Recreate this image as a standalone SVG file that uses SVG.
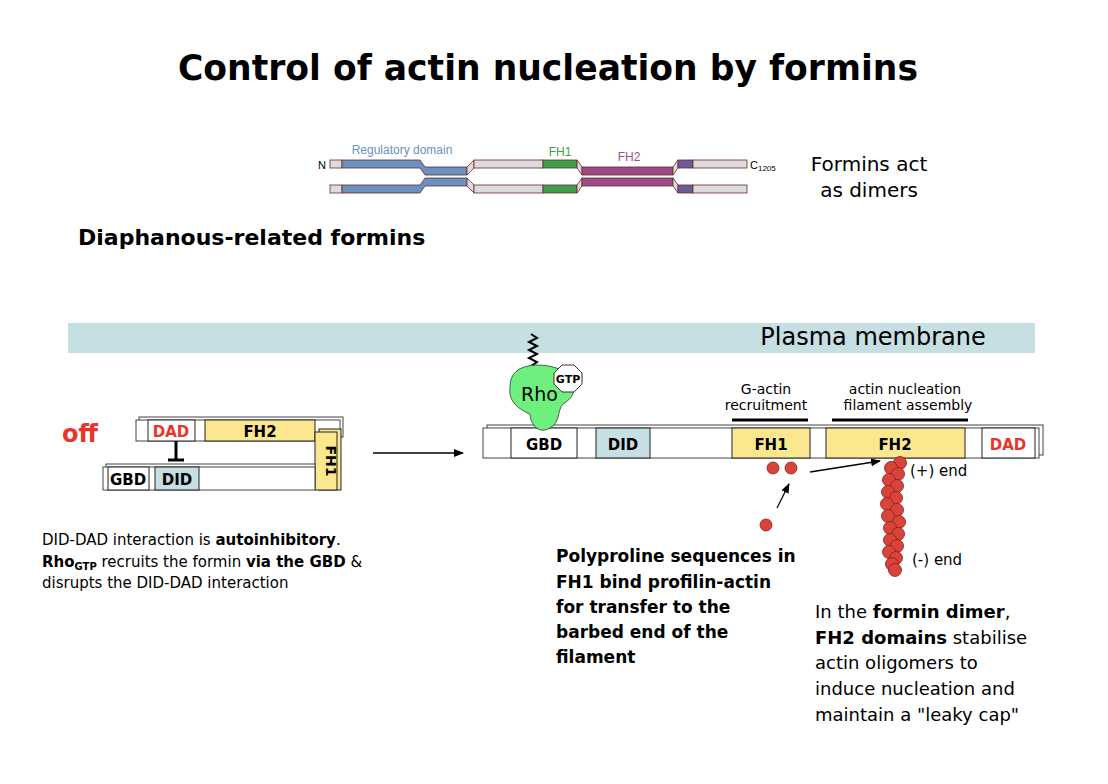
<svg xmlns="http://www.w3.org/2000/svg" width="1108" height="784" viewBox="0 0 1108 784">
<style>
text{font-family:"DejaVu Sans","Liberation Sans",sans-serif;fill:#000}
.b{font-weight:bold}
.box{stroke:#222;stroke-width:1}
.sh{fill:#fff;stroke:#444;stroke-width:1}
.dot{fill:#d9443a;stroke:#8a1d16;stroke-width:0.8}
.ln{stroke:#000;stroke-width:1.3;fill:none}
</style>
<defs>
<marker id="ah" markerWidth="10" markerHeight="8" refX="9" refY="4" orient="auto" markerUnits="userSpaceOnUse"><path d="M0,0 L10,4 L0,8 z" fill="#000"/></marker>
</defs>
<rect width="1108" height="784" fill="#fff"/>
<text x="548" y="80" font-size="36" text-anchor="middle" class="b" textLength="740" lengthAdjust="spacingAndGlyphs">Control of actin nucleation by formins</text>

<g id="dimer">
<text x="318" y="169" font-size="11" style="font-family:'Liberation Sans'">N</text>
<text x="750" y="169" font-size="11" style="font-family:'Liberation Sans'">C<tspan font-size="8" dy="2">1205</tspan></text>
<text x="402" y="154" font-size="12" text-anchor="middle" style="font-family:'Liberation Sans';fill:#6b8fc2">Regulatory domain</text>
<text x="560" y="156" font-size="12" text-anchor="middle" style="font-family:'Liberation Sans';fill:#3aa24a">FH1</text>
<text x="629" y="161" font-size="12" text-anchor="middle" style="font-family:'Liberation Sans';fill:#a0508f">FH2</text>
<g stroke="#6b2a2a" stroke-width="0.8">
<rect x="330" y="160" width="12" height="8" fill="#dcdce0"/>
<path d="M342,160 H420 L425,167 H467 V175 H425 L420,168 H342 Z" fill="#6a92c0"/>
<path d="M467,167 L474,160 V168 L467,175 Z" fill="#dcdce0"/>
<rect x="474" y="160" width="69" height="8" fill="#dcdce0"/>
<rect x="543" y="160" width="34" height="8" fill="#3ea04c"/>
<path d="M577,160 L582,167 V175 L577,168 Z" fill="#dcdce0"/>
<rect x="582" y="167" width="91" height="8" fill="#9c4c84"/>
<path d="M673,167 L678,160 V168 L673,175 Z" fill="#dcdce0"/>
<rect x="678" y="160" width="15" height="8" fill="#6b5c9a"/>
<rect x="693" y="160" width="54" height="8" fill="#dcdce0"/>

<rect x="330" y="185" width="12" height="8" fill="#dcdce0"/>
<path d="M342,185 H420 L425,178 H467 V186 H425 L420,193 H342 Z" fill="#6a92c0"/>
<path d="M467,178 L474,185 V193 L467,186 Z" fill="#dcdce0"/>
<rect x="474" y="185" width="69" height="8" fill="#dcdce0"/>
<rect x="543" y="185" width="34" height="8" fill="#3ea04c"/>
<path d="M577,185 L582,178 V186 L577,193 Z" fill="#dcdce0"/>
<rect x="582" y="178" width="91" height="8" fill="#9c4c84"/>
<path d="M673,178 L678,185 V193 L673,186 Z" fill="#dcdce0"/>
<rect x="678" y="185" width="15" height="8" fill="#6b5c9a"/>
<rect x="693" y="185" width="54" height="8" fill="#dcdce0"/>
</g>
</g>
<text x="869" y="171" font-size="20" text-anchor="middle">Formins act</text>
<text x="869" y="197" font-size="20" text-anchor="middle">as dimers</text>
<text x="78" y="245" font-size="22" class="b">Diaphanous-related formins</text>

<g id="membrane">
<rect x="68" y="323" width="967" height="30" fill="#c5dfe3"/>
<text x="873" y="345" font-size="24" text-anchor="middle">Plasma membrane</text>
</g>

<g id="off">
<text x="62" y="442" font-size="24" class="b" style="fill:#e8352b">off</text>
<rect x="139" y="417" width="204" height="20" class="sh"/>
<rect x="136" y="420" width="204" height="21" class="sh"/>
<rect x="148" y="420" width="47" height="21" class="box" fill="#fff"/>
<text x="171" y="437" font-size="15" class="b" text-anchor="middle" style="fill:#e8352b">DAD</text>
<rect x="205" y="420" width="110" height="21" class="box" fill="#fbe88e"/>
<text x="260" y="437" font-size="15" class="b" text-anchor="middle">FH2</text>
<rect x="319" y="429" width="22" height="61" class="box" fill="#fbe88e"/>
<rect x="315" y="432" width="22" height="58" class="box" fill="#fbe88e"/>
<text x="326" y="461" font-size="14" class="b" text-anchor="middle" transform="rotate(90 326 461)">FH1</text>
<rect x="106" y="464" width="209" height="22" class="sh"/>
<rect x="103" y="467" width="212" height="23" class="sh"/>
<rect x="108" y="467" width="41" height="23" class="box" fill="#fff"/>
<text x="128" y="485" font-size="15" class="b" text-anchor="middle">GBD</text>
<rect x="155" y="467" width="44" height="23" class="box" fill="#c5dfe3"/>
<text x="177" y="485" font-size="15" class="b" text-anchor="middle">DID</text>
<path d="M176,441 V460 M168,460 H184" stroke="#000" stroke-width="3"/>
</g>

<g id="connectors">
<line x1="373" y1="453" x2="463" y2="453" class="ln" marker-end="url(#ah)"/>
<line x1="777" y1="508" x2="789" y2="484" class="ln" marker-end="url(#ah)"/>
<line x1="810" y1="472" x2="880" y2="461" class="ln" marker-end="url(#ah)"/>
</g>

<g id="on">
<rect x="487" y="425" width="556" height="30" class="sh"/>
<rect x="483" y="428" width="556" height="30" class="sh"/>
<rect x="511" y="428" width="66" height="30" class="box" fill="#fff"/>
<text x="544" y="450" font-size="15" class="b" text-anchor="middle">GBD</text>
<rect x="596" y="428" width="54" height="30" class="box" fill="#c5dfe3"/>
<text x="623" y="450" font-size="15" class="b" text-anchor="middle">DID</text>
<rect x="732" y="428" width="78" height="30" class="box" fill="#fbe88e"/>
<text x="771" y="450" font-size="15" class="b" text-anchor="middle">FH1</text>
<rect x="826" y="428" width="139" height="30" class="box" fill="#fbe88e"/>
<text x="895" y="450" font-size="15" class="b" text-anchor="middle">FH2</text>
<rect x="982" y="428" width="53" height="30" class="box" fill="#fff"/>
<text x="1008" y="450" font-size="15" class="b" text-anchor="middle" style="fill:#e8352b">DAD</text>
<path d="M732,420 H808 M832,420 H968" stroke="#000" stroke-width="3"/>
<text x="766" y="394" font-size="14" text-anchor="middle">G-actin</text>
<text x="766" y="410" font-size="14" text-anchor="middle">recruitment</text>
<text x="905" y="394" font-size="14" text-anchor="middle">actin nucleation</text>
<text x="908" y="410" font-size="14" text-anchor="middle">filament assembly</text>
</g>

<g id="rho">
<path d="M531,334 l6,4 -8,4 8,4 -8,4 8,4 -8,4 8,4 -6,4" fill="none" stroke="#000" stroke-width="2"/>
<path d="M518,370 C530,362 555,364 568,374 C578,387 575,397 563,404 C556,412 562,425 545,430 C535,432 530,420 530,414 C520,410 508,402 510,388 C510,380 512,374 518,370 Z" fill="#6ef07e" stroke="#333" stroke-width="0.8"/>
<text x="521" y="401" font-size="19">Rho</text>
<polygon points="562,365 574,365 582,373 582,384 574,392 562,392 554,384 554,373" fill="#fff" stroke="#333"/>
<text x="568" y="383" font-size="11" class="b" text-anchor="middle">GTP</text>
</g>

<g id="actin">
<circle cx="773" cy="468" r="6" class="dot"/>
<circle cx="791" cy="468" r="6" class="dot"/>
<circle cx="766" cy="525" r="6" class="dot"/>
<circle cx="900" cy="463" r="6.5" class="dot"/><circle cx="891" cy="468" r="6.5" class="dot"/>
<circle cx="898" cy="474" r="6.5" class="dot"/><circle cx="889" cy="480" r="6.5" class="dot"/>
<circle cx="897" cy="486" r="6.5" class="dot"/><circle cx="888" cy="492" r="6.5" class="dot"/>
<circle cx="896" cy="498" r="6.5" class="dot"/><circle cx="887" cy="504" r="6.5" class="dot"/>
<circle cx="897" cy="510" r="6.5" class="dot"/><circle cx="888" cy="516" r="6.5" class="dot"/>
<circle cx="899" cy="522" r="6.5" class="dot"/><circle cx="890" cy="528" r="6.5" class="dot"/>
<circle cx="898" cy="534" r="6.5" class="dot"/><circle cx="890" cy="540" r="6.5" class="dot"/>
<circle cx="897" cy="546" r="6.5" class="dot"/><circle cx="889" cy="552" r="6.5" class="dot"/>
<circle cx="896" cy="558" r="6.5" class="dot"/><circle cx="892" cy="564" r="6.5" class="dot"/>
<circle cx="895" cy="570" r="6.5" class="dot"/>
<text x="910" y="476" font-size="15">(+) end</text>
<text x="912" y="565" font-size="15">(-) end</text>
</g>

<g id="captions">
<text x="42" y="545" font-size="15">DID-DAD interaction is <tspan class="b">autoinhibitory</tspan>.</text>
<text x="42" y="567" font-size="15"><tspan class="b">Rho<tspan font-size="10" dy="3">GTP</tspan></tspan><tspan dy="-3"> recruits the formin </tspan><tspan class="b">via the GBD</tspan> &amp;</text>
<text x="42" y="588" font-size="15">disrupts the DID-DAD interaction</text>
<g font-size="17">
<text x="556" y="562" class="b">Polyproline sequences in</text>
<text x="556" y="588" class="b">FH1 bind profilin-actin</text>
<text x="556" y="613" class="b">for transfer to the</text>
<text x="556" y="638" class="b">barbed end of the</text>
<text x="556" y="663" class="b">filament</text>
</g>
<text x="815" y="618" font-size="18">In the <tspan class="b">formin dimer</tspan>,</text>
<text x="815" y="644" font-size="18"><tspan class="b">FH2 domains</tspan> stabilise</text>
<text x="815" y="669" font-size="18">actin oligomers to</text>
<text x="815" y="695" font-size="18">induce nucleation and</text>
<text x="815" y="721" font-size="18">maintain a "leaky cap"</text>
</g>
</svg>
